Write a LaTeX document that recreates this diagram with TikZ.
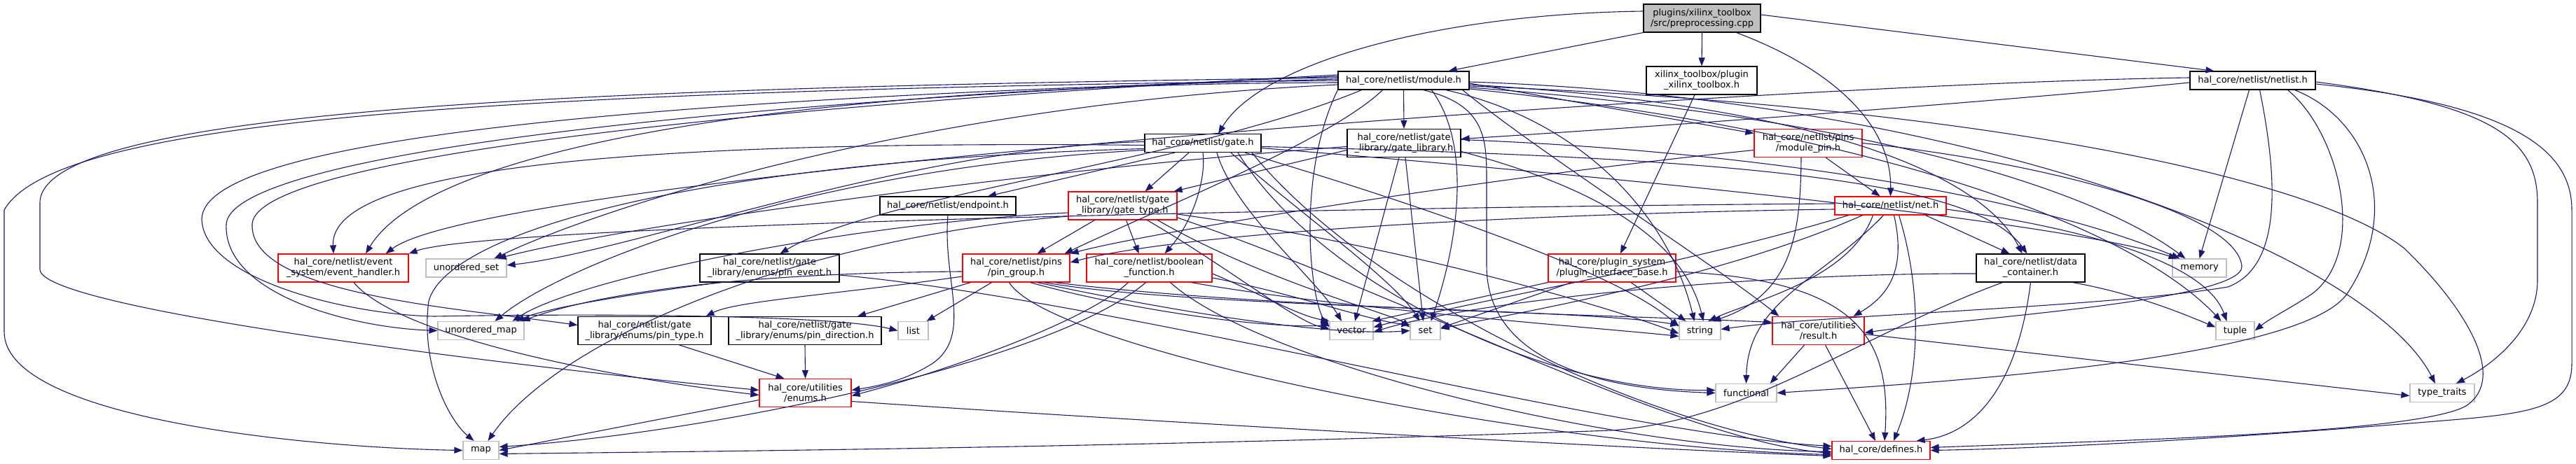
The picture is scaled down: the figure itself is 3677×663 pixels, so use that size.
\documentclass[tikz,border=0pt]{standalone}
\usepackage{fontspec}
\newfontfamily\dox{DejaVu Sans}
\usetikzlibrary{arrows.meta}
\definecolor{edgec}{HTML}{191970}
\definecolor{extgray}{HTML}{BFBFBF}
\definecolor{rootgray}{HTML}{BFBFBF}
\definecolor{redc}{HTML}{FF0000}
\tikzset{
 box/.style={draw=black, line width=1.2pt, fill=white, inner sep=0pt, align=center, font=\dox\fontsize{13}{15}\selectfont, text=black},
 one/.style={minimum height=26pt},
 two/.style={minimum height=40pt},
 redb/.style={box, draw=redc},
 ext/.style={box, draw=extgray, one},
 e/.style={draw=edgec, line width=1.1pt, -{Triangle[length=12pt,width=9pt]}},
}
\begin{document}
\begin{tikzpicture}[x=1pt,y=-1pt]
\useasboundingbox (0,0) rectangle (3677,663);
% nodes
\node[box,two,fill=rootgray,minimum width=167pt] (cpp) at (2429.5,26) {plugins/xilinx\_toolbox\\/src/preprocessing.cpp};
\node[box,one,minimum width=187pt] (module) at (2003.5,115) {hal\_core/netlist/module.h};
\node[box,two,minimum width=158pt] (xtb) at (2429,115) {xilinx\_toolbox/plugin\\\_xilinx\_toolbox.h};
\node[box,one,minimum width=179pt] (netlist) at (3215.5,115) {hal\_core/netlist/netlist.h};
\node[box,one,minimum width=166pt] (gate) at (1717,204.5) {hal\_core/netlist/gate.h};
\node[box,two,minimum width=162pt] (gatelib) at (2004,204.5) {hal\_core/netlist/gate\\\_library/gate\_library.h};
\node[redb,two,minimum width=154pt] (modpin) at (2581,204.5) {hal\_core/netlist/pins\\/module\_pin.h};
\node[redb,one,minimum width=159pt] (net) at (2698.5,294) {hal\_core/netlist/net.h};
\node[box,one,minimum width=194pt] (endpoint) at (1353,294) {hal\_core/netlist/endpoint.h};
\node[redb,two,minimum width=155pt] (gatetype) at (1602.5,294) {hal\_core/netlist/gate\\\_library/gate\_type.h};
\node[redb,two,minimum width=186pt] (evh) at (490,383) {hal\_core/netlist/event\\\_system/event\_handler.h};
\node[ext,minimum width=115pt] (uset) at (665.5,383) {unordered\_set};
\node[box,two,minimum width=199pt] (pinevent) at (1098.5,383) {hal\_core/netlist/gate\\\_library/enums/pin\_event.h};
\node[redb,two,minimum width=153pt] (pingroup) at (1450.5,383) {hal\_core/netlist/pins\\/pin\_group.h};
\node[redb,two,minimum width=179pt] (boolf) at (1640.5,383) {hal\_core/netlist/boolean\\\_function.h};
\node[redb,two,minimum width=182pt] (pib) at (2301,383) {hal\_core/plugin\_system\\/plugin\_interface\_base.h};
\node[box,two,minimum width=155pt] (dc) at (2898.5,383) {hal\_core/netlist/data\\\_container.h};
\node[ext,minimum width=77pt] (memory) at (3139.5,383) {memory};
\node[ext,minimum width=123pt] (umap) at (686.5,472.5) {unordered\_map};
\node[box,two,minimum width=190pt] (pintype) at (920,472.5) {hal\_core/netlist/gate\\\_library/enums/pin\_type.h};
\node[box,two,minimum width=218pt] (pindir) at (1149,472.5) {hal\_core/netlist/gate\\\_library/enums/pin\_direction.h};
\node[ext,minimum width=43pt] (list) at (1303.5,472.5) {list};
\node[ext,minimum width=62pt] (vector) at (1929,472.5) {vector};
\node[ext,minimum width=43pt] (set) at (2034.5,472.5) {set};
\node[ext,minimum width=59pt] (string) at (2426.5,472.5) {string};
\node[redb,two,minimum width=131pt] (result) at (2595.5,472.5) {hal\_core/utilities\\/result.h};
\node[ext,minimum width=55pt] (tuple) at (3190.5,472.5) {tuple};
\node[redb,two,minimum width=131pt] (enums) at (1149.5,561.5) {hal\_core/utilities\\/enums.h};
\node[ext,minimum width=87pt] (functional) at (2492.5,561.5) {functional};
\node[ext,minimum width=92pt] (ttraits) at (3486,561.5) {type\_traits};
\node[ext,minimum width=51pt] (map) at (686.5,643.5) {map};
\node[redb,one,minimum width=140pt] (defines) at (2685,643.5) {hal\_core/defines.h};
% cpp
\draw[e] (cpp.south west) -- ([xshift=-30]module.north east);
\draw[e] (cpp.south) -- (xtb.north);
\draw[e] ([xshift=-35]cpp.south east) .. controls (2620,100) and (2700,180) .. (net.north);
\draw[e] ([yshift=5]cpp.east) -- ([xshift=-55]netlist.north);
\draw[e] ([yshift=10]cpp.west) .. controls (2050,20) and (1800,90) .. ([xshift=22]gate.north);
% module
\draw[e] (module.south) -- (gatelib.north);
\draw[e] ([yshift=-4]module.east) -- ([yshift=14]modpin.west);
\draw[e] ([xshift=-30]module.south) .. controls (1900,200) and (1650,300) .. ([xshift=-8]pingroup.north east);
\draw[e] ([xshift=-60]module.south) .. controls (1700,230) and (1250,280) .. ([xshift=15]pinevent.north);
\draw[e] ([yshift=-3]module.west) .. controls (1200,120) and (620,200) .. ([xshift=32]evh.north);
\draw[e] ([yshift=-6]module.east) .. controls (2600,150) and (2830,250) .. ([xshift=-12]dc.north);
\draw[e] ([xshift=-10]module.south east) .. controls (2200,220) and (2450,380) .. ([xshift=10]result.north west);
\draw[e] ([yshift=4]module.west) .. controls (900,125) and (57,150) .. (57,290) -- (57,385) .. controls (57,440) and (700,520) .. ([yshift=4]enums.west);
\draw[e] ([yshift=-8]module.east) .. controls (2800,150) and (3300,250) .. (3432,355) .. controls (3520,440) and (3580,540) .. (3520,580) .. controls (3450,620) and (3000,630) .. ([yshift=4]defines.east);
\draw[e] ([xshift=28]module.south) .. controls (2122,150) and (2122,200) .. (2122,260) -- (2122,380) .. controls (2122,500) and (2250,555) .. (functional.west);
\draw[e] ([yshift=2]module.west) .. controls (900,140) and (290,200) .. (288,313) .. controls (290,400) and (500,450) .. (620,452) .. controls (900,447) and (1200,452) .. (list.west);
\draw[e] (module.west) .. controls (700,130) and (80,170) .. (6,300) -- (6,474) .. controls (6,600) and (450,640) .. (map.west);
\draw[e] ([yshift=-10]module.east) .. controls (2700,170) and (3000,280) .. ([xshift=-20]memory.north);
\draw[e] ([xshift=40]module.south) .. controls (2110,220) and (2070,380) .. ([xshift=8]set.north);
\draw[e] ([xshift=60]module.south) .. controls (2250,170) and (2380,300) .. ([xshift=-8]string.north);
\draw[e] ([yshift=-2]module.east) .. controls (2800,140) and (3380,360) .. ([xshift=-10]ttraits.north);
\draw[e] ([yshift=6]module.west) .. controls (900,150) and (330,230) .. (323,320) .. controls (318,420) and (500,468) .. (umap.west);
\draw[e] ([yshift=-6]module.west) .. controls (1300,150) and (850,300) .. ([xshift=40]uset.north);
\draw[e] (module.south west) .. controls (1850,250) and (1870,430) .. ([yshift=5]vector.west);
\draw[e] ([yshift=8]module.west) .. controls (1000,155) and (365,230) .. (360,320) .. controls (355,420) and (650,440) .. ([yshift=8]pintype.west);
\draw[e] ([yshift=-12]module.east) .. controls (2700,190) and (3050,330) .. ([xshift=-20]tuple.north);
% gate
\draw[e] ([xshift=-20]gate.south) -- ([xshift=32]gatetype.north);
\draw[e] (gate.south) .. controls (1722,260) and (1700,320) .. ([xshift=22]boolf.north);
\draw[e] ([xshift=-40]gate.south) -- ([xshift=57]endpoint.north);
\draw[e] ([yshift=-5]gate.east) .. controls (2500,225) and (2820,260) .. ([xshift=-5]dc.north);
\draw[e] ([yshift=-3]gate.west) .. controls (900,200) and (470,240) .. ([xshift=-14]evh.north);
\draw[e] ([yshift=-8]gate.west) .. controls (1000,230) and (640,330) .. (612,430) .. controls (600,520) and (640,600) .. ([xshift=-10]map.north);
\draw[e] ([yshift=-7]gate.east) .. controls (2400,260) and (2950,320) .. ([xshift=-32]memory.north);
\draw[e] ([xshift=40]gate.south) .. controls (1850,300) and (1990,400) .. ([xshift=-8]set.north);
\draw[e] ([xshift=60]gate.south) .. controls (1950,270) and (2300,380) .. ([yshift=6]string.west);
\draw[e] ([yshift=-10]gate.west) .. controls (1150,240) and (800,380) .. ([xshift=20]umap.north);
\draw[e] ([yshift=2]gate.west) .. controls (1300,210) and (900,360) .. ([yshift=4]uset.east);
\draw[e] ([xshift=20]gate.south) .. controls (1760,300) and (1880,400) .. ([xshift=-14]vector.north);
\draw[e] ([xshift=70]gate.south) .. controls (1950,420) and (2350,610) .. ([yshift=2]defines.west);
\draw[e] ([xshift=50]gate.south) .. controls (1880,400) and (2200,560) .. ([yshift=4]functional.west);
% gate library
\draw[e] ([yshift=-10]gatelib.west) -- ([xshift=-5]gatetype.north east);
\draw[e] ([xshift=-7]gatelib.south) -- ([xshift=5]vector.north);
\draw[e] ([xshift=2]gatelib.south) -- ([xshift=-3]set.north);
\draw[e] ([yshift=-12]gatelib.east) .. controls (2250,260) and (2400,330) .. ([xshift=5]string.north);
\draw[e] ([yshift=5]gatelib.east) .. controls (2600,220) and (2950,300) .. ([xshift=-28]memory.north);
\draw[e] ([yshift=-5]gatelib.west) .. controls (1500,240) and (900,320) .. ([xshift=45]uset.north);
% module pin
\draw[e] ([xshift=25]modpin.south) -- ([xshift=-15]net.north);
\draw[e] ([xshift=-10]modpin.south) .. controls (2570,330) and (2560,420) .. ([xshift=18]string.north);
\draw[e] ([yshift=-10]modpin.west) .. controls (2150,250) and (1650,330) .. (pingroup.north east);
\draw[e] (modpin.east) .. controls (2900,230) and (3190,300) .. (3200,380) .. controls (3205,430) and (2800,455) .. ([yshift=-3]result.east);
% net
\draw[e] ([xshift=50]net.south) -- ([xshift=-30]dc.north);
\draw[e] ([yshift=3]net.west) .. controls (2000,295) and (700,320) .. (evh.north east);
\draw[e] ([yshift=-5]net.west) .. controls (2200,305) and (1700,330) .. ([yshift=8]pingroup.east);
\draw[e] ([xshift=-25]net.south) .. controls (2640,400) and (2500,430) .. ([xshift=12]string.north);
\draw[e] ([xshift=-10]net.south) .. controls (2600,400) and (2495,430) .. (functional.north);
\draw[e] ([xshift=5]net.south) .. controls (2720,380) and (2700,420) .. ([xshift=50]result.north);
\draw[e] ([xshift=12]net.south) .. controls (2745,420) and (2740,540) .. ([xshift=18]defines.north);
\draw[e] ([yshift=-5]net.east) .. controls (3000,330) and (3150,380) .. ([xshift=-12]tuple.north);
\draw[e] ([xshift=-60]net.south) .. controls (2400,380) and (2100,430) .. ([yshift=5]vector.east);
\draw[e] ([xshift=-40]net.south) .. controls (2450,400) and (2150,450) .. ([yshift=3]set.east);
% endpoint
\draw[e] (endpoint.south) .. controls (1345,400) and (1390,480) .. (1330,520) .. controls (1290,545) and (1250,552) .. ([yshift=4]enums.east);
% gate type
\draw[e] ([xshift=-40]gatetype.south) -- ([xshift=30]pingroup.north);
\draw[e] ([xshift=5]gatetype.south) -- ([xshift=-15]boolf.north);
\draw[e] ([yshift=-10]gatetype.west) .. controls (1200,320) and (820,400) .. ([xshift=45]umap.north);
\draw[e] ([yshift=-15]gatetype.west) .. controls (1150,340) and (800,480) .. ([xshift=10]map.north);
\draw[e] ([xshift=50]gatetype.south) .. controls (1800,400) and (1990,450) .. ([yshift=5]set.west);
\draw[e] ([yshift=-12]gatetype.east) .. controls (2000,350) and (2300,440) .. ([yshift=-4]string.west);
\draw[e] ([xshift=35]gatetype.south) .. controls (1750,380) and (1850,460) .. ([yshift=3]vector.west);
\draw[e] ([yshift=-17]gatetype.east) .. controls (2000,420) and (2400,630) .. ([yshift=-4]defines.west);
% pin event
\draw[e] ([xshift=-70]pinevent.south) .. controls (900,420) and (780,440) .. ([xshift=-12]umap.north east);
\draw[e] ([yshift=-10]pinevent.east) .. controls (1600,430) and (2300,620) .. ([yshift=6]defines.west);
% pin group
\draw[e] ([xshift=-35]pingroup.south) -- ([xshift=-3]list.north east);
\draw[e] ([xshift=-65]pingroup.south) -- ([xshift=75]pindir.north);
\draw[e] ([yshift=-12]pingroup.west) .. controls (1200,420) and (1050,430) .. ([xshift=-8]pintype.north east);
\draw[e] ([yshift=-5]pingroup.west) .. controls (1050,390) and (850,420) .. ([xshift=-4]umap.north east);
\draw[e] ([xshift=40]pingroup.south) .. controls (1700,440) and (2250,440) .. ([yshift=8]string.west);
\draw[e] ([xshift=20]pingroup.south) .. controls (1600,440) and (1800,470) .. ([yshift=8]vector.west);
\draw[e] ([xshift=30]pingroup.south) .. controls (1700,450) and (1900,480) .. (set.west);
\draw[e] ([xshift=55]pingroup.south) .. controls (1800,440) and (2300,450) .. ([yshift=12]result.west);
\draw[e] ([xshift=-10]pingroup.south) .. controls (1500,500) and (2200,640) .. ([yshift=-6]defines.west);
% boolean function
\draw[e] ([xshift=-30]boolf.south) .. controls (1550,460) and (1350,530) .. ([yshift=-4]enums.east);
\draw[e] ([xshift=-5]boolf.south) .. controls (1500,520) and (1000,620) .. ([yshift=5]map.east);
\draw[e] ([yshift=-8]boolf.east) .. controls (1800,420) and (1850,450) .. (vector.north west);
\draw[e] ([yshift=-14]boolf.east) .. controls (1850,420) and (1960,460) .. ([yshift=9]set.west);
\draw[e] ([xshift=60]boolf.south) .. controls (1900,440) and (2300,470) .. ([yshift=-8]string.west);
\draw[e] ([xshift=30]boolf.south) .. controls (1800,520) and (2300,640) .. ([yshift=-2]defines.west);
% plugin interface base
\draw[e] (pib.south west) -- ([xshift=-2]vector.north east);
\draw[e] ([xshift=-58]pib.south) -- ([yshift=4]set.east);
\draw[e] ([xshift=27]pib.south) -- ([xshift=-20]string.north);
\draw[e] ([yshift=-5]pib.east) .. controls (2650,400) and (2700,480) .. ([xshift=5]defines.north);
% data container
\draw[e] ([xshift=-40]dc.south) .. controls (2650,480) and (2500,600) .. (2300,615) .. controls (1600,640) and (1000,645) .. ([yshift=-5]map.east);
\draw[e] (dc.south) .. controls (2880,550) and (2820,620) .. ([xshift=-20]defines.north east);
\draw[e] ([xshift=60]dc.south) .. controls (3050,420) and (3120,450) .. ([yshift=5]tuple.west);
\draw[e] ([yshift=-8]dc.west) .. controls (2500,390) and (2100,430) .. ([yshift=-2]vector.east);
% enums related
\draw[e] ([xshift=50]pintype.south) -- ([xshift=-30]enums.north);
\draw[e] (pindir.south) -- (enums.north);
\draw[e] ([xshift=15]evh.south) .. controls (560,470) and (800,530) .. ([yshift=-3]enums.west);
\draw[e] ([yshift=-10]enums.west) -- (map.east);
\draw[e] ([yshift=-12]enums.east) .. controls (1600,600) and (2300,640) .. ([yshift=-8]defines.west);
% result
\draw[e] ([xshift=-20]result.south) -- ([xshift=-10]functional.north east);
\draw[e] ([xshift=10]result.south) -- ([xshift=-8]defines.north);
\draw[e] ([yshift=-5]result.east) -- ([yshift=-4]ttraits.west);
% xtb
\draw[e] ([xshift=-10]xtb.south) -- ([xshift=12]pib.north);
% netlist
\draw[e] ([yshift=-3]netlist.west) .. controls (2800,150) and (2300,185) .. ([yshift=6]gatelib.east);
\draw[e] ([xshift=-5]netlist.south) -- (memory.north);
\draw[e] ([xshift=50]netlist.south) .. controls (3340,190) and (3380,360) .. (3300,420) .. controls (3270,440) and (3240,455) .. (tuple.east);
\draw[e] ([xshift=60]netlist.south) .. controls (3380,170) and (3430,300) .. (3350,420) .. controls (3280,520) and (2700,550) .. (functional.east);
\draw[e] ([yshift=-2]netlist.east) .. controls (3560,150) and (3622,200) .. (3622,290) -- (3622,400) .. controls (3622,470) and (3560,520) .. ([xshift=20]ttraits.north);
\draw[e] ([yshift=-5]netlist.east) .. controls (3600,150) and (3671,220) .. (3671,300) -- (3671,520) .. controls (3671,580) and (3620,590) .. (3500,600) .. controls (3200,625) and (2950,640) .. (defines.east);
\draw[e] ([yshift=4]netlist.west) .. controls (2500,120) and (700,250) .. ([xshift=-33]evh.north east);
\draw[e] ([xshift=10]netlist.south) .. controls (3250,250) and (3260,380) .. (3180,410) .. controls (3000,440) and (2600,450) .. ([yshift=2]string.east);
\end{tikzpicture}
\end{document}
